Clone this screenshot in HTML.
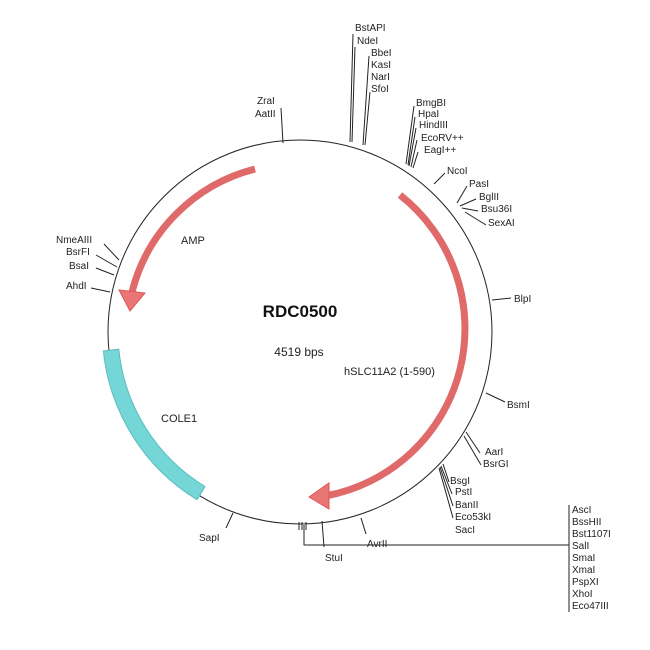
<!DOCTYPE html>
<html><head><meta charset="utf-8"><style>
html,body{margin:0;padding:0;background:#fff;}
svg{display:block;font-family:"Liberation Sans",sans-serif;}
text{font-size:10px;fill:#222;}
</style></head><body>
<svg width="650" height="650" viewBox="0 0 650 650" xmlns="http://www.w3.org/2000/svg">
<circle cx="300" cy="332" r="192" fill="none" stroke="#222" stroke-width="1"/>
<!-- COLE1 -->
<path d="M 103.4 350.9 A 197.5 197.5 0 0 0 197.1 499.7 L 205 486.5 A 182 182 0 0 1 118.8 349.2 Z" fill="#74d6d6" stroke="#5cbcbc" stroke-width="1"/>
<!-- hSLC11A2 arc -->
<path d="M 400 195 A 170 170 0 0 1 325 496" fill="none" stroke="#e06a6a" stroke-width="7"/>
<path d="M 309 497 L 329 483 L 329 509 Z" fill="#ea7575" stroke="#d55" stroke-width="1"/>
<!-- AMP arc -->
<path d="M 255 169 A 170 170 0 0 0 132 292" fill="none" stroke="#e06a6a" stroke-width="7"/>
<path d="M 130 311 L 119 290 L 145 293 Z" fill="#ea7575" stroke="#d55" stroke-width="1"/>
<g stroke="#222" stroke-width="1" fill="none">
<path d="M350 142 L353 34 M352 142 L355 47"/>
<path d="M363 145 L369 56 M365 145 L370 92"/>
<path d="M406 164 L414 106 M408 165 L415 117 M409 166 L416 128 M411 167 L417 140 M413 168 L418 152"/>
<path d="M434 184 L445 173"/>
<path d="M457 203 L467 186 M460 206 L476 199 M462 208 L478 211 M465 212 L486 225"/>
<path d="M492 300 L511 298"/>
<path d="M486 393 L505 402"/>
<path d="M466 432 L480 453 M464 436 L481 465"/>
<path d="M443 464 L449 482 M441 466 L452 494 M440 467 L453 506 M439 468 L453 518"/>
<path d="M233 513 L226 528"/>
<path d="M322 521 L324 547"/>
<path d="M361 518 L366 534"/>
<path d="M304 525 L304 545 L569 545 M569 505 L569 612"/>
<path d="M299 522 L299 530 M302 522 L302 530 M306 522 L306 530"/>
<path d="M283 143 L281 108"/>
<path d="M119 260 L104 244 M117 267 L96 255 M114 275 L96 268 M110 292 L91 288"/>
</g>
<text x="355" y="31">BstAPI</text>
<text x="357" y="44">NdeI</text>
<text x="371" y="56">BbeI</text>
<text x="371" y="68">KasI</text>
<text x="371" y="80">NarI</text>
<text x="371" y="92">SfoI</text>
<text x="416" y="106">BmgBI</text>
<text x="418" y="117">HpaI</text>
<text x="419" y="128">HindIII</text>
<text x="421" y="141">EcoRV++</text>
<text x="424" y="153">EagI++</text>
<text x="447" y="174">NcoI</text>
<text x="469" y="187">PasI</text>
<text x="479" y="200">BglII</text>
<text x="481" y="212">Bsu36I</text>
<text x="488" y="226">SexAI</text>
<text x="514" y="302">BlpI</text>
<text x="507" y="408">BsmI</text>
<text x="485" y="455">AarI</text>
<text x="483" y="467">BsrGI</text>
<text x="450" y="484">BsgI</text>
<text x="455" y="495">PstI</text>
<text x="455" y="508">BanII</text>
<text x="455" y="520">Eco53kI</text>
<text x="455" y="533">SacI</text>
<text x="572" y="513">AscI</text>
<text x="572" y="525">BssHII</text>
<text x="572" y="537">Bst1107I</text>
<text x="572" y="549">SalI</text>
<text x="572" y="561">SmaI</text>
<text x="572" y="573">XmaI</text>
<text x="572" y="585">PspXI</text>
<text x="572" y="597">XhoI</text>
<text x="572" y="609">Eco47III</text>
<text x="325" y="561">StuI</text>
<text x="367" y="547">AvrII</text>
<text x="199" y="541">SapI</text>
<text x="257" y="104">ZraI</text>
<text x="255" y="117">AatII</text>
<text x="56" y="243">NmeAIII</text>
<text x="66" y="255">BsrFI</text>
<text x="69" y="269">BsaI</text>
<text x="66" y="289">AhdI</text>
<text x="300" y="317" text-anchor="middle" style="font-size:17px;font-weight:bold;fill:#111">RDC0500</text>
<text x="299" y="356" text-anchor="middle" style="font-size:12px">4519 bps</text>
<text x="181" y="244" style="font-size:11px">AMP</text>
<text x="344" y="375" style="font-size:11px">hSLC11A2 (1-590)</text>
<text x="161" y="422" style="font-size:11px">COLE1</text>
</svg>
</body></html>
